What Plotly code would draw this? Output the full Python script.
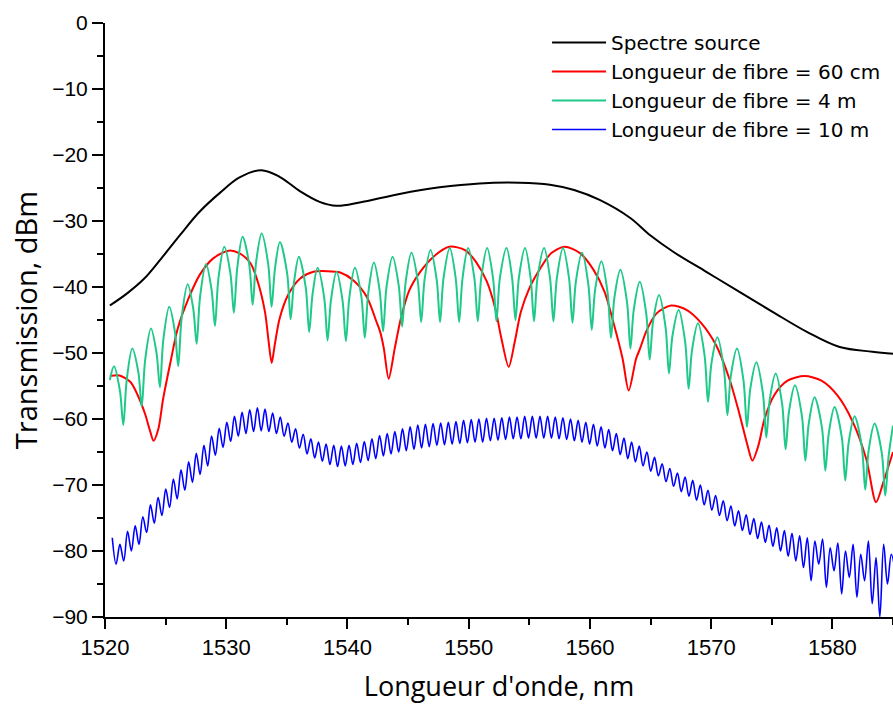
import numpy as np
import plotly.graph_objects as go

# ---------------- data ----------------
# Source spectrum (black)
src_x = [1520.4, 1521.8, 1523.2, 1524.5, 1526.2, 1527.8, 1529.5, 1531.1, 1532.9, 1534.4,
         1536.1, 1537.7, 1539.1, 1541.0, 1544.3, 1547.6, 1550.9, 1554.2, 1556.7, 1558.7,
         1560.8, 1563.3, 1565.0, 1566.9, 1569.6, 1572.3, 1575.1, 1577.9, 1580.6, 1583.3, 1585.0]
src_y = [-42.8, -41.0, -38.8, -36.0, -32.1, -28.6, -25.7, -23.4, -22.3, -23.3,
         -25.5, -27.1, -27.7, -27.2, -25.9, -24.9, -24.3, -24.2, -24.5, -25.3,
         -26.8, -29.5, -32.2, -34.7, -37.7, -40.7, -43.8, -46.8, -49.1, -49.8, -50.1]

# Fibre length 60 cm (red)
red_x = [1520.4, 1521.2, 1522.1, 1522.7, 1523.3, 1523.7, 1524.0, 1524.4, 1524.8, 1525.4,
         1526.0, 1526.9, 1527.8, 1528.9, 1530.2, 1531.1, 1532.0, 1532.6, 1533.2, 1533.5,
         1533.75, 1534.0, 1534.4, 1535.1, 1536.1, 1537.2, 1538.3, 1539.4, 1540.5, 1541.6,
         1542.4, 1542.7, 1543.0, 1543.4, 1543.9, 1544.4, 1545.1, 1546.0, 1547.1, 1548.4,
         1549.7, 1550.6, 1551.5, 1552.2, 1552.7, 1553.3, 1553.8, 1554.3, 1555.0, 1555.9,
         1556.8, 1557.9, 1559.2, 1560.3, 1561.2, 1562.0, 1562.7, 1563.2, 1563.8, 1564.1,
         1564.7, 1565.5, 1566.7, 1568.0, 1569.2, 1570.4, 1571.5, 1572.3, 1573.0, 1573.4,
         1573.9, 1574.4, 1575.2, 1576.3, 1577.7, 1579.1, 1580.4, 1581.7, 1582.8, 1583.6,
         1584.2, 1585.0]
red_y = [-53.5, -53.4, -54.4, -56.4, -59.2, -61.7, -63.3, -61.5, -56.9, -51.4,
         -46.3, -41.7, -38.2, -35.7, -34.5, -34.9, -36.4, -39.2, -43.8, -48.3,
         -51.5, -48.8, -44.8, -41.2, -38.7, -37.7, -37.6, -37.8, -39.0, -41.5,
         -45.3, -46.8, -49.3, -53.9, -49.3, -44.8, -40.5, -37.7, -35.4, -33.9,
         -34.4, -36.2, -39.2, -43.3, -47.8, -52.1, -48.3, -43.8, -40.2, -37.2,
         -34.9, -33.9, -34.9, -37.4, -40.7, -45.8, -50.9, -55.7, -50.9, -49.5,
         -46.5, -44.0, -42.8, -43.5, -45.5, -48.8, -53.9, -59.0, -64.0, -66.3,
         -64.0, -60.0, -56.4, -54.2, -53.5, -54.2, -56.4, -60.5, -66.1, -72.6,
         -69.6, -65.0]

# Fibre length 4 m (green): fringe maxima, minima and the flanks either side of each minimum
grn_peak_x = [1520.74, 1522.25, 1523.79, 1525.30, 1526.82, 1528.33, 1529.84, 1531.35, 1532.92, 1534.43,
              1535.99, 1537.54, 1539.10, 1540.61, 1542.18, 1543.72, 1545.28, 1546.85, 1548.44, 1549.95,
              1551.52, 1553.12, 1554.65, 1556.22, 1557.78, 1559.35, 1560.95, 1562.51, 1564.11, 1565.70,
              1567.32, 1568.91, 1570.51, 1572.13, 1573.73, 1575.32, 1576.91, 1578.53, 1580.18, 1581.83,
              1583.48]
grn_peak_y = [-52.0, -49.3, -46.3, -43.0, -39.6, -36.5, -33.9, -32.4, -31.9, -33.2,
              -35.4, -37.1, -37.7, -37.1, -36.3, -35.4, -34.8, -34.4, -34.1, -34.1,
              -34.1, -34.1, -34.1, -34.1, -34.1, -34.8, -36.1, -37.4, -39.2, -41.2,
              -43.5, -45.5, -47.6, -49.3, -51.4, -53.1, -54.9, -56.7, -58.2, -59.6,
              -60.7]
grn_trough_x = [1521.51, 1523.03, 1524.53, 1526.04, 1527.56, 1529.07, 1530.63, 1532.18, 1533.74,
                1535.31, 1536.84, 1538.36, 1539.87, 1541.43, 1542.94, 1544.51, 1546.08, 1547.64, 1549.21,
                1550.75, 1552.29, 1553.86, 1555.39, 1556.99, 1558.56, 1560.15, 1561.74, 1563.34, 1564.93,
                1566.52, 1568.14, 1569.74, 1571.34, 1572.95, 1574.55, 1576.14, 1577.77, 1579.42, 1581.06,
                1582.71, 1584.36]
grn_trough_y = [-60.9, -58.1, -55.2, -52.0, -48.6, -45.9, -43.9, -42.7, -43.0,
                -44.9, -46.8, -48.1, -48.2, -47.7, -46.7, -46.0, -45.3, -45.3, -45.3,
                -45.2, -45.2, -45.0, -45.2, -45.2, -45.4, -46.5, -47.7, -49.3, -51.0,
                -53.1, -55.4, -57.4, -59.4, -61.2, -62.8, -64.6, -66.3, -67.8, -69.3,
                -70.7, -71.6]
# flank levels 0.28 nm before / after each minimum
grn_flank_dx = 0.28
grn_left_flank_y = [-55.7, -52.9, -50.0, -46.7, -43.3, -40.4, -38.0, -36.6, -36.5,
                    -38.0, -40.1, -41.6, -42.0, -41.5, -40.6, -39.8, -39.1, -38.9, -38.7,
                    -38.7, -38.7, -38.6, -38.7, -38.7, -38.7, -39.6, -40.9, -42.3, -44.1,
                    -46.1, -48.4, -50.4, -52.5, -54.2, -56.1, -57.8, -59.6, -61.3, -62.8,
                    -64.2, -65.2]
grn_right_flank_y = [-54.1, -51.1, -48.0, -44.7, -41.5, -38.8, -37.1, -36.3, -37.2,
                     -39.3, -41.1, -42.0, -41.7, -41.0, -40.0, -39.4, -38.9, -38.7, -38.7,
                     -38.7, -38.7, -38.6, -38.7, -38.7, -39.2, -40.4, -41.6, -43.4, -45.2,
                     -47.5, -49.6, -51.6, -53.5, -55.4, -57.1, -58.9, -60.7, -62.2, -63.6,
                     -64.8, -65.6]
grn_ends_x = [1520.40, 1585.00]
grn_ends_y = [-54.1, -61.0]

# Fibre length 10 m (blue): fringe maxima / minima, one fringe every 0.63 nm from 1520.6 nm
blue_start = 1520.6
blue_period = 0.63
blue_peak = [-78.0, -79.0, -77.0, -76.2, -74.8, -73.0, -71.9, -70.6, -69.1, -67.7,
             -66.5, -65.2, -64.0, -62.6, -61.4, -60.5, -59.6, -59.0, -58.6, -58.3,
             -58.5, -59.1, -59.7, -60.6, -61.5, -62.3, -63.0, -63.5, -63.8, -64.0,
             -64.1, -64.0, -63.7, -63.4, -63.0, -62.5, -62.2, -61.9, -61.5, -61.2,
             -60.9, -60.8, -60.7, -60.6, -60.5, -60.4, -60.2, -60.1, -60.0, -59.9,
             -59.9, -59.8, -59.7, -59.7, -59.6, -59.6, -59.6, -59.6, -59.7, -59.8,
             -60.0, -60.2, -60.5, -60.8, -61.2, -61.6, -62.2, -62.9, -63.5, -64.1,
             -65.0, -65.8, -66.8, -67.5, -68.2, -68.8, -69.3, -70.0, -70.8, -71.6,
             -72.4, -73.2, -73.9, -74.5, -75.1, -75.6, -76.1, -76.5, -76.9, -77.3,
             -77.7, -78.0, -78.5, -78.2, -79.5, -78.8, -80.0, -79.0, -80.5, -78.5,
             -81.0, -79.0, -80.5]
blue_trough = [-82.0, -81.5, -80.0, -79.0, -77.2, -75.8, -74.6, -73.4, -72.1, -70.8,
               -69.6, -68.4, -67.1, -65.5, -64.3, -63.4, -62.6, -62.2, -61.9, -61.8,
               -61.9, -62.2, -62.6, -63.5, -64.4, -65.3, -65.9, -66.4, -66.9, -67.2,
               -67.1, -66.9, -66.6, -66.3, -66.0, -65.6, -65.3, -65.0, -64.8, -64.6,
               -64.4, -64.2, -64.0, -63.9, -63.8, -63.7, -63.6, -63.5, -63.5, -63.3,
               -63.2, -63.1, -63.0, -63.0, -62.9, -62.9, -62.9, -62.9, -63.0, -63.1,
               -63.3, -63.5, -63.8, -64.1, -64.4, -64.8, -65.4, -66.0, -66.5, -67.1,
               -67.9, -68.6, -69.5, -70.2, -71.0, -71.7, -72.3, -73.0, -73.8, -74.6,
               -75.4, -76.2, -76.9, -77.5, -78.1, -78.7, -79.3, -80.0, -80.8, -81.5,
               -82.5, -84.5, -82.0, -85.5, -83.0, -86.5, -84.0, -87.0, -84.5, -88.0,
               -90.0, -85.0, -83.0]

x_ticks = [1520, 1530, 1540, 1550, 1560, 1570, 1580]
y_ticks = [0, -10, -20, -30, -40, -50, -60, -70, -80, -90]

names = ["Spectre source", "Longueur de fibre = 60 cm",
         "Longueur de fibre = 4 m", "Longueur de fibre = 10 m"]

# ---------------- build series ----------------
gt_x = np.array(grn_trough_x)
g_x = np.concatenate([grn_peak_x, gt_x, gt_x - grn_flank_dx, gt_x + grn_flank_dx, grn_ends_x])
g_y = np.concatenate([grn_peak_y, grn_trough_y, grn_left_flank_y, grn_right_flank_y, grn_ends_y])
order = np.argsort(g_x)
g_x, g_y = g_x[order], g_y[order]

n_b = len(blue_peak)
bp_x = blue_start + blue_period * np.arange(n_b)
bt_x = bp_x + blue_period / 2
b_x = np.empty(2 * n_b)
b_y = np.empty(2 * n_b)
b_x[0::2], b_x[1::2] = bp_x, bt_x
b_y[0::2], b_y[1::2] = blue_peak, blue_trough

GREEN = "#1fc98a"

fig = go.Figure()
fig.add_trace(go.Scatter(x=src_x, y=src_y, mode="lines", name=names[0],
                         line=dict(color="black", width=2, shape="spline")))
fig.add_trace(go.Scatter(x=red_x, y=red_y, mode="lines", name=names[1],
                         line=dict(color="#ff0000", width=2, shape="spline", smoothing=0.8)))
fig.add_trace(go.Scatter(x=g_x, y=g_y, mode="lines", name=names[2],
                         line=dict(color=GREEN, width=2, shape="spline", smoothing=0.9)))
fig.add_trace(go.Scatter(x=b_x, y=b_y, mode="lines", name=names[3],
                         line=dict(color="#0000ff", width=1.6, shape="spline", smoothing=1.0)))

xtickfont = dict(family="Arial, Liberation Sans, sans-serif", size=22, color="black")
ytickfont = dict(family="Arial, Liberation Sans, sans-serif", size=21, color="black")

fig.update_layout(
    width=893, height=704,
    margin=dict(l=105, r=0, t=23, b=87, autoexpand=False),
    plot_bgcolor="white", paper_bgcolor="white",
    showlegend=True,
    legend=dict(x=0.561, y=1.0, xanchor="left", yanchor="top",
                bgcolor="rgba(0,0,0,0)",
                font=dict(family="DejaVu Sans, sans-serif", size=20, color="black"),
                itemwidth=54, tracegroupgap=0),
    xaxis=dict(range=[1520, 1585], tickvals=x_ticks, ticks="outside", ticklen=10, tickwidth=1.8,
               tickcolor="black", showline=True, linecolor="black", linewidth=2,
               showgrid=False, zeroline=False, tickfont=xtickfont, automargin=False,
               minor=dict(dtick=5, tick0=1520, ticks="outside", ticklen=6, tickwidth=1.8,
                          tickcolor="black", showgrid=False),
               title=dict(text="Longueur d'onde, nm",
                          font=dict(family="Open Sans, sans-serif", size=27, color="black"),
                          standoff=22)),
    yaxis=dict(range=[-90, 0], tickvals=y_ticks, ticks="outside", ticklen=11, tickwidth=1.8,
               tickcolor="black", showline=True, linecolor="black", linewidth=2,
               showgrid=False, zeroline=False, tickfont=ytickfont, automargin=False,
               minor=dict(dtick=5, tick0=0, ticks="outside", ticklen=6, tickwidth=1.8,
                          tickcolor="black", showgrid=False),
               title=dict(text="Transmission, dBm",
                          font=dict(family="Open Sans, sans-serif", size=29, color="black"),
                          standoff=6)),
)

fig.write_html("out.html", config={"displayModeBar": False},
               post_script="document.body.style.margin='0px';document.body.style.overflow='hidden';")
